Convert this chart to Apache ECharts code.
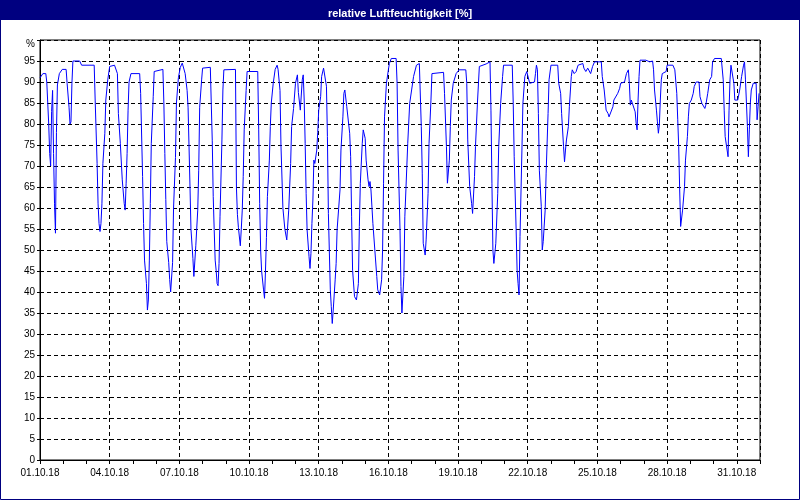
<!DOCTYPE html>
<html>
<head>
<meta charset="utf-8">
<script src="https://cdn.jsdelivr.net/npm/echarts@6/dist/echarts.min.js"></script>
<style>
html,body{margin:0;padding:0;background:#fff;}
#chart{width:800px;height:500px;}
</style>
</head>
<body>
<div id="chart"></div>
<script>
// x tick labels (every 3 days = 72 h)
var tickLabels = ['01.10.18','04.10.18','07.10.18','10.10.18','13.10.18','16.10.18','19.10.18','22.10.18','25.10.18','28.10.18','31.10.18'];
// hours since 01.10.18 00:00
var hours = [0,3,6,7,9,10,11,12,13,14,15,16,17,18,20,23,27,28,30,31,32,33,34,41,43,56,57,59,60,61,62,63,64,65,67,68,70,72,77,80,81,83,85,87,88,89,90,91,92,94,103,104,106,107,108,110,111,112,113,114,115,117,118,127,128,129,130,131,133,134,135,137,138,140,141,143,145,147,150,152,153,155,156,158,159,160,161,163,164,165,167,168,176,177,178,179,180,181,182,183,184,185,186,188,189,190,202,203,204,205,207,208,209,210,211,213,214,225,226,227,228,229,231,232,233,234,235,237,238,239,241,243,245,246,248,249,251,253,255,257,259,260,262,264,266,267,269,271,272,273,274,275,276,278,279,280,281,282,283,284,286,287,288,290,291,293,295,296,297,298,300,301,302,303,305,306,307,309,310,311,313,314,315,317,320,321,322,323,325,327,329,330,331,333,334,336,337,339,340,341,342,344,346,348,349,351,353,354,355,356,358,360,361,363,368,369,370,372,373,374,375,376,377,380,382,384,386,389,392,394,395,396,398,399,401,402,404,405,417,418,420,421,423,424,425,427,430,433,440,441,442,444,446,447,449,450,452,454,461,465,466,467,468,469,471,473,474,476,478,479,488,489,490,492,493,494,495,496,498,499,501,503,505,506,507,511,512,513,514,515,516,518,519,520,522,523,525,526,528,535,536,538,539,541,542,543,544,546,547,549,550,552,554,556,557,561,562,564,566,568,569,571,573,580,581,583,585,587,588,590,592,593,595,597,599,600,604,606,608,609,610,611,613,615,616,617,618,619,620,626,630,633,634,635,637,638,639,640,641,642,643,647,648,654,656,658,659,660,661,662,663,664,666,667,669,670,671,673,675,676,678,681,682,684,687,688,690,692,694,695,697,704,706,707,708,710,711,712,713,714,716,717,718,721,723,725,727,728,729,731,732,733,734,735,737,739,740,741,742,743];
// relative humidity [%]
var humidity = [91,92,92,90,80,73,70,83,88,73,61,54,78,89.3,92,93,93,89.7,84,80,80.5,89.7,95,95,94,94,85.7,70.6,61,56.3,54.4,56.3,61,70.6,77.8,85.7,90.5,93.7,94,92,82.5,75.4,66.7,61.1,59.5,65.9,73,83.3,90,92,92,87.3,67.5,56.3,47.6,42,35.7,38.1,47.6,61.1,75.4,86.5,92.5,93,85,73,62,52,47,43,40,47,60,72,85,91,93.5,94.5,92,88,84,65,55,48,43.7,43.7,51,59.5,69,84,90.5,93.3,93.5,93.3,76,62.7,54.8,47.6,45.2,42,41.5,46.8,57.9,76.2,88.1,92.9,93,64.8,58.5,55.4,51,55,59.5,67.5,78.6,88,92.5,92.5,78.6,61.1,50,45,40.5,38.5,45,53,62.7,71.4,79.4,85,89.7,93,94,93,88,75,60,55,52.4,59.5,70.6,79.4,83.7,89.7,91.7,87.5,83.3,90.5,91.7,85.7,75.4,63.5,54.8,48.4,45.6,49.2,56.3,61.9,71.4,70.6,73.8,78,83.3,86.5,91.3,93.3,93.7,89,77,58.7,40.5,36.5,32.5,35.7,42.9,46.8,54.8,54.8,64.3,73.8,81.7,87.3,88.1,84.1,77.8,72.2,57.9,45.2,38.9,38.1,42,55.6,65.9,75.4,78.6,76.6,71.4,66.7,65.1,66.3,64.3,56.3,50,43.7,40.5,39.3,42.9,50,65.9,81.7,89.7,92.9,94.4,95.6,95.6,89.7,73.8,54.8,41.3,35,35,43.7,57.9,75.4,84.9,88.1,91.3,94,94.4,79.4,68.3,51.6,48.8,52.4,63.5,75.4,85.7,92,92.3,87.3,74.6,65.9,71.4,79.4,85.7,89.7,92,92.9,92.9,89.7,76.2,65.1,61.1,58.7,67.5,74.6,84.9,93.7,94.3,94.8,83.3,65.9,50,46.8,51.6,63.5,74.6,84.9,91.3,94,94,84.9,72.2,54.8,45.2,42,39.3,53.2,73.8,84.9,91.3,92.5,92.9,89.7,90,90,92,94,92.9,82.5,69,60.3,50,52,59.5,68.3,82.5,90.5,94,94,89.7,87.3,82.5,74.6,71,73.8,76.2,79.4,84.1,91.3,92.9,92,92.5,94,94.4,94.4,93.3,92.5,93.3,93,92,93.7,94.8,94.8,91.3,88.1,83.3,82.5,81.7,82,84.1,85.7,86.1,87.3,88.5,89.7,90,92,92.9,89.7,84.5,85.7,85.3,82.9,80.2,78.6,85.7,91.3,95.2,95.2,94.8,95,92.9,88.1,83.3,80.5,77.8,79.8,85.7,90.5,92,92.5,94,94,92.9,87.3,81,74.6,64.3,55.6,56,59.5,65.1,71.4,77,81.7,84.9,85.7,87.3,88.9,90,90,86.5,84.9,83.7,84.5,87.3,90.5,91.3,94.8,95.6,95.6,90.5,83.3,77,73.8,72.2,83.3,90.5,94,93.7,89.7,85.7,85.7,88.1,91.3,94,94.8,90.5,79.4,72.2,78.6,84.9,88.1,89.7,90,89.7,81,84.1,87.3];

var seriesData = hours.map(function (h, i) { return [h, humidity[i]]; });

var chart = echarts.init(document.getElementById('chart'), null, {renderer: 'canvas'});
var fontFam = 'Liberation Sans, Arial, sans-serif';
chart.setOption({
  animation: false,
  backgroundColor: '#ffffff',
  title: {
    text: 'relative Luftfeuchtigkeit [%]',
    left: 'center',
    top: 3,
    z: 10,
    textStyle: {color: '#ffffff', fontSize: 11, fontWeight: 'bold', fontFamily: fontFam}
  },
  graphic: [
    {type: 'rect', z: -10, silent: true, shape: {x: 0, y: 0, width: 800, height: 20}, style: {fill: '#000080'}},
    {type: 'rect', z: -10, silent: true, shape: {x: 0.5, y: 0.5, width: 799, height: 499}, style: {fill: 'none', stroke: '#000080', lineWidth: 1}}
  ],
  grid: {left: 40, right: 40, top: 40, bottom: 40, show: true, borderColor: '#000', borderWidth: 1, backgroundColor: 'transparent'},
  xAxis: [
    {
      type: 'value', min: 0, max: 744, interval: 72,
      axisLine: {show: true, lineStyle: {color: '#000', width: 1}},
      axisTick: {show: true, length: 4, lineStyle: {color: '#000'}},
      axisLabel: {
        margin: 8, fontSize: 10, color: '#000', fontFamily: fontFam,
        formatter: function (v) { return v % 72 === 0 ? tickLabels[v / 72] : ''; }
      },
      splitLine: {show: true, lineStyle: {color: '#000', type: [4, 3], width: 1}}
    },
    {
      type: 'value', min: 0, max: 744, interval: 24, position: 'bottom',
      axisLine: {show: false},
      axisTick: {show: true, length: 4, lineStyle: {color: '#000'}},
      axisLabel: {show: false},
      splitLine: {show: false}
    }
  ],
  yAxis: {
    type: 'value', min: 0, max: 100, interval: 5,
    axisLine: {show: true, lineStyle: {color: '#000', width: 1}},
    axisTick: {show: true, length: 3, lineStyle: {color: '#000'}},
    axisLabel: {
      margin: 5, fontSize: 10, color: '#000', fontFamily: fontFam,
      formatter: function (v) { return v === 100 ? '{p|%}' : String(v); },
      rich: {p: {fontSize: 10, color: '#000', fontFamily: fontFam, padding: [8, 0, 0, 0]}}
    },
    splitLine: {show: true, lineStyle: {color: '#000', type: [4, 3], width: 1}}
  },
  series: [{
    type: 'line',
    xAxisIndex: 0,
    data: seriesData,
    showSymbol: false,
    symbol: 'none',
    lineStyle: {color: '#0000ff', width: 1},
    z: 5
  }]
});
</script>
</body>
</html>
